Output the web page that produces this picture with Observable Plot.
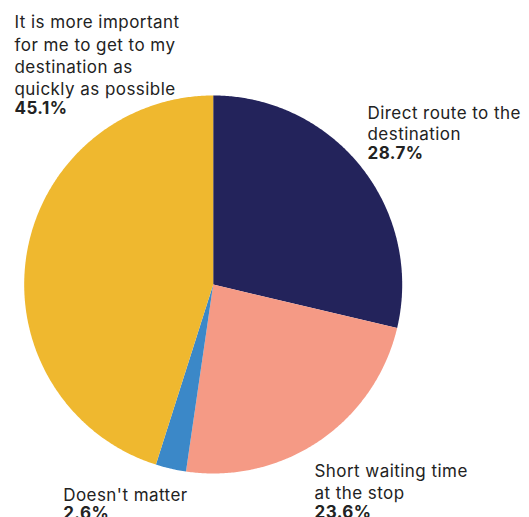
<!DOCTYPE html>
<html><head><meta charset="utf-8">
<script src="https://cdn.jsdelivr.net/npm/d3@7"></script>
<script src="https://cdn.jsdelivr.net/npm/@observablehq/plot@0.6"></script>
<style>body{margin:0;background:#fff;overflow:hidden} svg text{letter-spacing:0.45px}</style>
</head><body><div id="chart"></div>
<script>
// Data
const categories = [
  "Direct route to the destination",
  "Short waiting time at the stop",
  "Doesn't matter",
  "It is more important for me to get to my destination as quickly as possible"
];
const values = [28.7, 23.6, 2.6, 45.1];
const colors = ["#23235b", "#f59a85", "#3b88c8", "#efb82f"];
const labelLines = [
  ["Direct route to the", "destination"],
  ["Short waiting time", "at the stop"],
  ["Doesn't matter"],
  ["It is more important", "for me to get to my", "destination as", "quickly as possible"]
];

// Build slice polygons (unit circle, clockwise from 12 o'clock)
const arcs = d3.pie().sort(null).value(d => d)(values);
const points = [];
arcs.forEach((a, i) => {
  const cat = categories[i];
  points.push({cat, x: 0, y: 0});
  const n = Math.max(4, Math.ceil((a.endAngle - a.startAngle) / (Math.PI / 360)));
  for (let k = 0; k <= n; k++) {
    const t = a.startAngle + (a.endAngle - a.startAngle) * k / n;
    points.push({cat, x: Math.sin(t), y: Math.cos(t)});
  }
  points.push({cat, x: 0, y: 0});
});

// Layout (pixels)
const W = 529, H = 517;
const cx = 212.7, cy = 284, R = 189;
const mL = cx - R, mT = cy - R;
const place = [
  {x: 367, y: 115, gap: 21.6},
  {x: 314, y: 473, gap: 22},
  {x: 62.7, y: 496.5, gap: 22},
  {x: 14, y: 24, gap: 22.3}
];
const FS = 17;
const labelMarks = [];
categories.forEach((c, i) => {
  const p = place[i];
  const lines = labelLines[i];
  labelMarks.push(Plot.text([lines.join("\n")], {
    text: d => d, frameAnchor: "top-left", textAnchor: "start", lineAnchor: "top",
    lineHeight: p.gap / FS, fontSize: FS, fill: "#222",
    dx: p.x - mL, dy: p.y - 0.71 * FS - mT
  }));
  labelMarks.push(Plot.text([values[i].toFixed(1) + "%"], {
    text: d => d, frameAnchor: "top-left", textAnchor: "start", lineAnchor: "top",
    fontSize: FS, fontWeight: "bold", fill: "#222",
    dx: p.x - mL, dy: p.y + lines.length * p.gap - 0.71 * FS - mT
  }));
});

const chart = Plot.plot({
  width: W, height: H,
  marginLeft: mL, marginRight: W - (cx + R),
  marginTop: mT, marginBottom: H - (cy + R),
  x: {domain: [-1, 1], axis: null},
  y: {domain: [-1, 1], axis: null},
  color: {domain: categories, range: colors},
  style: {fontFamily: "Inter, 'DejaVu Sans', sans-serif", fontSize: "17px", color: "#222", background: "#fff", overflow: "visible"},
  marks: [
    Plot.line(points, {x: "x", y: "y", z: "cat", fill: "cat", stroke: null, curve: "linear"}),
    ...labelMarks
  ]
});
document.getElementById("chart").appendChild(chart);
</script></body></html>
